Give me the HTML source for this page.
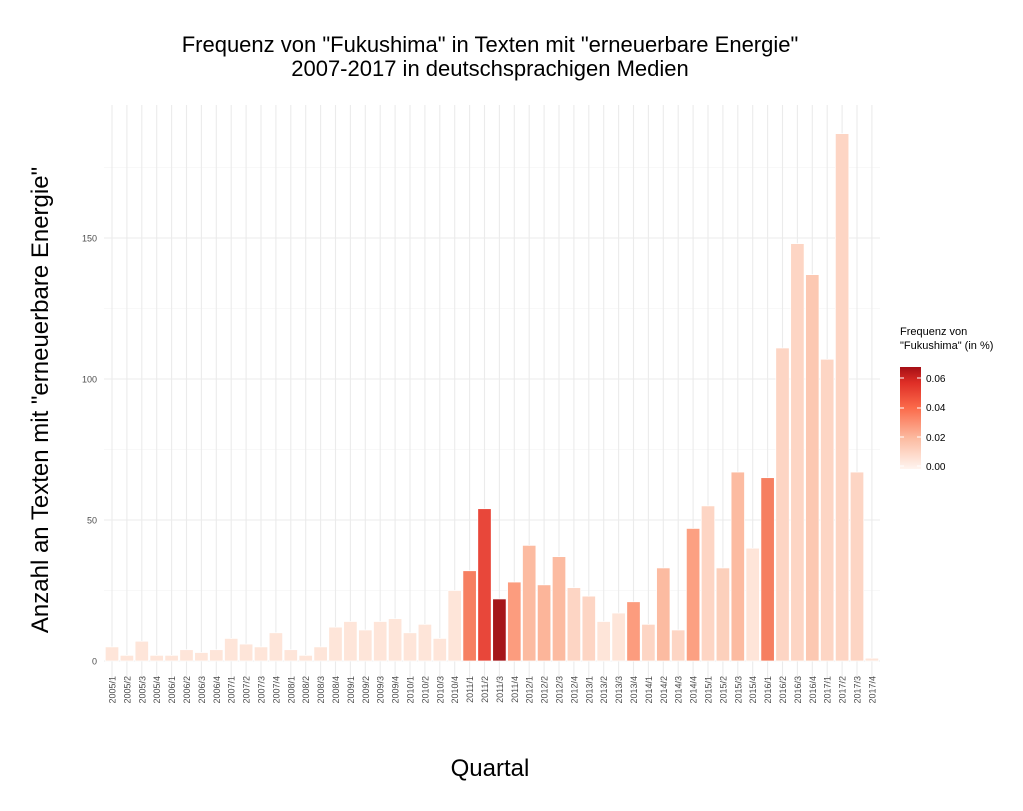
<!DOCTYPE html>
<html><head><meta charset="utf-8"><style>
body{margin:0;background:#fff;}
svg text{font-family:"Liberation Sans",Arial,sans-serif;}
</style></head><body>
<svg id="s" width="1023" height="806" xmlns="http://www.w3.org/2000/svg">
<rect width="1023" height="806" fill="#fff"/>
<text x="490" y="52" font-size="22" text-anchor="middle" fill="#000">Frequenz von "Fukushima" in Texten mit "erneuerbare Energie"</text>
<text x="490" y="76" font-size="22" text-anchor="middle" fill="#000">2007-2017 in deutschsprachigen Medien</text>
<text x="490" y="776" font-size="24" text-anchor="middle" fill="#000">Quartal</text>
<text transform="translate(48,400) rotate(-90)" font-size="24" text-anchor="middle" fill="#000">Anzahl an Texten mit "erneuerbare Energie"</text>
<g id="g"></g>
<text x="900" y="335" font-size="11" fill="#000">Frequenz von</text>
<text x="900" y="349" font-size="11" fill="#000">"Fukushima" (in %)</text>
<defs><linearGradient id="lg" x1="0" y1="1" x2="0" y2="0">
<stop offset="0" stop-color="#fff5f0"/><stop offset="0.3" stop-color="#fcbba1"/><stop offset="0.6" stop-color="#fb6a4a"/><stop offset="0.85" stop-color="#de2d26"/><stop offset="1" stop-color="#a50f15"/></linearGradient></defs>
<rect x="900" y="367" width="21" height="102" fill="url(#lg)"/>
<g stroke="#fff" stroke-width="1">
<line x1="900" y1="378" x2="904" y2="378"/><line x1="917" y1="378" x2="921" y2="378"/>
<line x1="900" y1="408" x2="904" y2="408"/><line x1="917" y1="408" x2="921" y2="408"/>
<line x1="900" y1="437" x2="904" y2="437"/><line x1="917" y1="437" x2="921" y2="437"/>
<line x1="900" y1="466" x2="904" y2="466"/><line x1="917" y1="466" x2="921" y2="466"/>
</g>
<g font-size="10" fill="#000">
<text x="926" y="382">0.06</text><text x="926" y="411">0.04</text><text x="926" y="441">0.02</text><text x="926" y="470">0.00</text>
</g>
</svg>
<script>
var vals=[5,2,7,2,2,4,3,4,8,6,5,10,4,2,5,12,14,11,14,15,10,13,8,25,32,54,22,28,41,27,37,26,23,14,17,21,13,33,11,47,55,33,67,40,65,111,148,137,107,187,67,1];
var P="#fee5d9",L="#fdd5c4",M="#fcbba1",O="#fc9c7e",D="#f67f61";
var cols=[];for(var i=0;i<52;i++)cols.push(P);
var over={24:D,25:"#e8473a",26:"#a51619",27:O,28:M,29:"#fcb59a",30:M,31:L,32:L,35:O,36:L,37:M,38:L,39:"#fca082",40:L,41:"#fcd0bc",42:M,44:D,45:L,46:L,47:"#fcc8b2",48:L,49:L,50:L};
for(var k in over)cols[k]=over[k];
var ns="http://www.w3.org/2000/svg",g=document.getElementById("g");
function el(t,a,tx){var e=document.createElementNS(ns,t);for(var k in a)e.setAttribute(k,a[k]);if(tx!=null)e.textContent=tx;g.appendChild(e);return e;}
var x0=104,x1=880,yt=105,yb=690,y0=661,s=2.82,sp=14.9,c0=112;
function Y(v){return y0-v*s;}
for(var v=25;v<=175;v+=50)el("line",{x1:x0,x2:x1,y1:Y(v),y2:Y(v),stroke:"#f2f2f2","stroke-width":0.6});
for(var v=0;v<=150;v+=50){el("line",{x1:x0,x2:x1,y1:Y(v),y2:Y(v),stroke:"#ebebeb","stroke-width":1.1});
el("text",{x:97,y:Y(v)+3.5,"font-size":9,"text-anchor":"end",fill:"#4d4d4d"},v);}
var labs=[];
for(var i=0;i<52;i++){var yr=2005+Math.floor(i/4),q=i%4+1,cx=c0+i*sp;
el("line",{x1:cx,x2:cx,y1:yt,y2:yb,stroke:"#ebebeb","stroke-width":1.1});}
for(var i=0;i<52;i++){var yr=2005+Math.floor(i/4),q=i%4+1,cx=c0+i*sp,w=13.4;
el("rect",{x:cx-w/2,y:Y(vals[i]),width:w,height:vals[i]*s,fill:cols[i],stroke:"#fff","stroke-width":0.7});
el("text",{transform:"translate("+(cx+3.5)+",676) rotate(-90)","font-size":9,"text-anchor":"end",fill:"#4d4d4d"},yr+"/"+q);}
</script>
</body></html>
